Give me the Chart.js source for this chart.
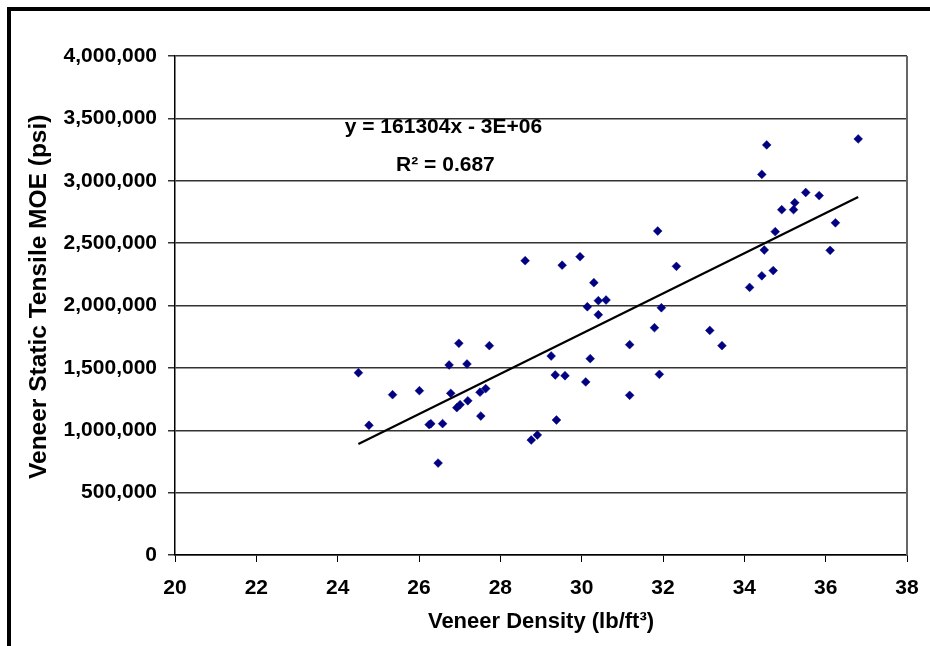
<!DOCTYPE html>
<html>
<head>
<meta charset="utf-8">
<script src="https://cdn.jsdelivr.net/npm/chart.js@4"></script>
<style>
  html, body { margin: 0; padding: 0; background: #fff; }
  #wrap { width: 930px; height: 646px; position: relative; }
</style>
</head>
<body>
<div id="wrap"><canvas id="moeChart"></canvas></div>
<script>
// veneer density (lb/ft3) and static tensile MOE (psi)
const density = [24.51, 24.77, 25.35, 26.01, 26.25, 26.29, 26.58, 26.47, 26.74, 26.78,
                 26.98, 26.93, 27.01, 27.18, 27.20, 27.50, 27.64, 27.52, 27.73, 28.61,
                 28.76, 28.91, 29.25, 29.35, 29.38, 29.52, 29.59, 29.96, 30.10, 30.14,
                 30.21, 30.30, 30.41, 30.41, 30.60, 31.18, 31.18, 31.79, 31.87, 31.91,
                 31.96, 32.33, 33.15, 33.45, 34.13, 34.43, 34.43, 34.49, 34.55, 34.71,
                 34.76, 34.92, 35.21, 35.24, 35.51, 35.84, 36.11, 36.24, 36.80];
const moe = [1461000, 1040000, 1285000, 1317000, 1045000, 1052000, 1053000, 737000, 1523000, 1296000,
             1697000, 1181000, 1205000, 1531000, 1236000, 1305000, 1334000, 1114000, 1678000, 2359000,
             922000, 962000, 1595000, 1443000, 1082000, 2323000, 1437000, 2391000, 1387000, 1990000,
             1574000, 2183000, 2039000, 1926000, 2044000, 1686000, 1280000, 1822000, 2597000, 1448000,
             1982000, 2314000, 1800000, 1678000, 2145000, 3051000, 2238000, 2445000, 3287000, 2280000,
             2592000, 2768000, 2768000, 2824000, 2906000, 2881000, 2442000, 2663000, 3335000];

// linear trendline ends
const trendX = [24.51, 36.80];
const trendY = [890000, 2870000];
const equationLines = ['y = 161304x - 3E+06', 'R\u00b2 = 0.687'];
const yTitle = 'Veneer Static Tensile MOE (psi)';

const points = density.map((x, i) => ({ x: x, y: moe[i] }));
const trendPoints = trendX.map((x, i) => ({ x: x, y: trendY[i] }));

const FONT = '"Liberation Sans", Arial, sans-serif';

const framePlugin = {
  id: 'frame',
  afterDraw(chart) {
    const ctx = chart.ctx;
    const a = chart.chartArea;
    const xs = chart.scales.x, ys = chart.scales.y;
    ctx.save();
    // outer black frame (cut off at right / bottom)
    ctx.fillStyle = '#000';
    ctx.fillRect(7, 7, chart.width - 7, 4);
    ctx.fillRect(7, 7, 4, chart.height - 7);
    // right border of plot area
    ctx.strokeStyle = '#666';
    ctx.lineWidth = 2;
    ctx.beginPath();
    ctx.moveTo(a.right, a.top);
    ctx.lineTo(a.right, a.bottom);
    ctx.stroke();
    // trendline label
    ctx.fillStyle = '#000';
    ctx.font = 'bold 21px ' + FONT;
    ctx.textAlign = 'center';
    ctx.textBaseline = 'middle';
    ctx.fillText(equationLines[0], xs.getPixelForValue(26.6), ys.getPixelForValue(3430000));
    ctx.fillText(equationLines[1], xs.getPixelForValue(26.65), ys.getPixelForValue(3125000));
    // y axis title, sits a bit above the middle of the axis
    ctx.font = 'bold 24.5px ' + FONT;
    ctx.translate(39, ys.getPixelForValue(2070000));
    ctx.rotate(-Math.PI / 2);
    ctx.fillText(yTitle, 0, 0);
    ctx.restore();
  }
};

new Chart(document.getElementById('moeChart'), {
  type: 'scatter',
  data: {
    datasets: [{
      label: 'MOE',
      data: points,
      pointStyle: 'rectRot',
      pointRadius: 4.4,
      backgroundColor: '#000080',
      borderColor: '#000080',
      borderWidth: 0.5
    }, {
      label: 'Linear',
      data: trendPoints,
      showLine: true,
      pointRadius: 0,
      borderColor: '#000',
      borderWidth: 2.2
    }]
  },
  options: {
    responsive: true,
    maintainAspectRatio: false,
    animation: false,
    layout: { padding: { left: 22, top: 56, right: 23, bottom: 11 } },
    plugins: { legend: { display: false }, tooltip: { enabled: false } },
    scales: {
      x: {
        type: 'linear',
        min: 20,
        max: 38,
        afterFit(scale) { scale.height = 80; scale.paddingRight = 0; scale.paddingLeft = 0; },
        ticks: { stepSize: 2, color: '#000', padding: 14, font: { family: FONT, size: 21, weight: 'bold' } },
        grid: { drawOnChartArea: false, drawTicks: true, tickLength: 7, color: '#000', lineWidth: 1 },
        border: { color: '#000', width: 1.5 },
        title: { display: true, text: 'Veneer Density (lb/ft\u00b3)', color: '#000', padding: { top: 0, bottom: 0 },
                 font: { family: FONT, size: 22, weight: 'bold' } }
      },
      y: {
        min: 0,
        max: 4000000,
        afterFit(scale) { scale.width = 153; },
        ticks: { stepSize: 500000, color: '#000', padding: 11, font: { family: FONT, size: 21, weight: 'bold' },
                 callback: v => v.toLocaleString('en-US') },
        grid: { color: '#333', lineWidth: 1.5, tickLength: 7 },
        border: { color: '#000', width: 1.5 },
        title: { display: false }
      }
    }
  },
  plugins: [framePlugin]
});
</script>
</body>
</html>
